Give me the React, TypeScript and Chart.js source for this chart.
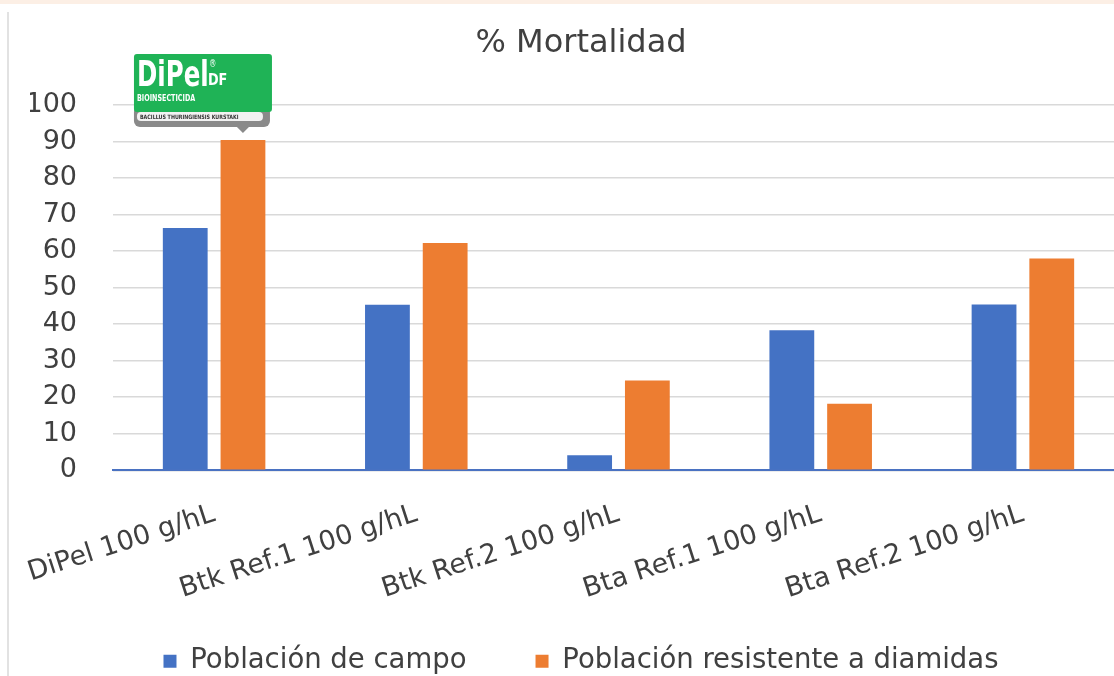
import React, { useEffect, useRef } from "react";
import { Chart, registerables } from "chart.js";

Chart.register(...registerables);

const TITLE = "% Mortalidad";
const CATEGORIES = [
  "DiPel 100 g/hL",
  "Btk Ref.1 100 g/hL",
  "Btk Ref.2 100 g/hL",
  "Bta Ref.1 100 g/hL",
  "Bta Ref.2 100 g/hL",
];
const SERIES_LABELS = ["Población de campo", "Población resistente a diamidas"];
const CAMPO = [66.3, 45.3, 4.1, 38.3, 45.4];
const RESISTENTE = [90.4, 62.2, 24.6, 18.2, 58.0];
const Y_MIN = 0;
const Y_MAX = 100;
const Y_STEP = 10;

const LOGO_NAME = "DiPel";
const LOGO_MARK = "®";
const LOGO_SUFFIX = "DF";
const LOGO_SUB = "BIOINSECTICIDA";
const LOGO_STRIP = "BACILLUS THURINGIENSIS KURSTAKI";

const FONT = "'DejaVu Sans', sans-serif";
const TEXT = "#404040";

function rr(ctx: CanvasRenderingContext2D, x: number, y: number, w: number, h: number, r: number) {
  ctx.beginPath();
  ctx.moveTo(x + r, y);
  ctx.arcTo(x + w, y, x + w, y + h, r);
  ctx.arcTo(x + w, y + h, x, y + h, r);
  ctx.arcTo(x, y + h, x, y, r);
  ctx.arcTo(x, y, x + w, y, r);
  ctx.closePath();
}

// lets the rotated category labels run below the axis box (they sit above the legend)
const unclipLabels = {
  id: "unclipLabels",
  beforeDraw(chart: any) {
    const x = chart.scales.x;
    if (x) x.bottom = chart.height;
  },
};

const logoPlugin = {
  id: "dipelLogo",
  afterDatasetsDraw(chart: any) {
    const bar = chart.getDatasetMeta(1).data[0];
    if (!bar) return;
    const ctx: CanvasRenderingContext2D = chart.ctx;
    const ax = bar.x;
    const ay = bar.y - 7;
    const L = ax - 109;
    const R = ax + 29;
    const T = ay - 79;
    ctx.save();
    ctx.fillStyle = "#8a8a8a";
    rr(ctx, L, T + 52, R - L - 2, 21, 6);
    ctx.fill();
    ctx.beginPath();
    ctx.moveTo(ax - 7, T + 72);
    ctx.lineTo(ax + 7, T + 72);
    ctx.lineTo(ax, ay);
    ctx.closePath();
    ctx.fill();
    ctx.fillStyle = "#1fb356";
    rr(ctx, L, T, R - L, 58, 3);
    ctx.fill();
    ctx.fillStyle = "#f2f2f2";
    rr(ctx, L + 3, T + 58, R - L - 12, 9, 4);
    ctx.fill();
    ctx.fillStyle = "#ffffff";
    ctx.textBaseline = "alphabetic";
    ctx.textAlign = "left";
    ctx.save();
    ctx.translate(L + 3, T + 32);
    ctx.scale(0.7, 1);
    ctx.font = "bold 35px 'DejaVu Sans'";
    ctx.fillText(LOGO_NAME, 0, 0);
    const w = ctx.measureText(LOGO_NAME).width;
    ctx.font = "10px 'DejaVu Sans'";
    ctx.fillText(LOGO_MARK, w + 1, -19);
    ctx.restore();
    ctx.save();
    ctx.translate(L + 74, T + 31);
    ctx.scale(0.8, 1);
    ctx.font = "bold 16px 'DejaVu Sans'";
    ctx.fillText(LOGO_SUFFIX, 0, 0);
    ctx.restore();
    ctx.save();
    ctx.translate(L + 3, T + 47);
    ctx.scale(0.8, 1);
    ctx.font = "bold 8px 'DejaVu Sans'";
    ctx.fillText(LOGO_SUB, 0, 0);
    ctx.restore();
    ctx.save();
    ctx.fillStyle = "#333333";
    ctx.translate(L + 6, T + 65);
    ctx.scale(0.8, 1);
    ctx.font = "bold 6px 'DejaVu Sans'";
    ctx.fillText(LOGO_STRIP, 0, 0);
    ctx.restore();
    ctx.restore();
  },
};

export default function App() {
  const ref = useRef<HTMLCanvasElement | null>(null);

  useEffect(() => {
    if (!ref.current) return;
    const chart = new Chart(ref.current, {
      type: "bar",
      data: {
        labels: CATEGORIES,
        datasets: [
          {
            label: SERIES_LABELS[0],
            data: CAMPO,
            backgroundColor: "#4472C4",
            borderWidth: 0,
            categoryPercentage: 0.571,
            barPercentage: 0.776,
          },
          {
            label: SERIES_LABELS[1],
            data: RESISTENTE,
            backgroundColor: "#ED7D31",
            borderWidth: 0,
            categoryPercentage: 0.571,
            barPercentage: 0.776,
          },
        ],
      },
      options: {
        responsive: false,
        animation: false,
        devicePixelRatio: 1,
        layout: { padding: { left: 22, right: 22, top: 0, bottom: 0 } },
        plugins: {
          title: {
            display: true,
            text: TITLE,
            color: TEXT,
            font: { family: FONT, size: 32, weight: "normal" },
            padding: { top: 14, bottom: 42.6 },
          },
          legend: {
            position: "bottom",
            labels: {
              boxWidth: 13,
              boxHeight: 13,
              color: TEXT,
              font: { family: FONT, size: 27.5 },
              padding: 69,
            },
          },
          tooltip: { enabled: false },
        },
        scales: {
          x: {
            grid: { display: false, drawTicks: false },
            border: { display: true, color: "#4a72c2", width: 2 },
            ticks: {
              color: TEXT,
              font: { family: FONT, size: 27 },
              minRotation: 18,
              maxRotation: 18,
              autoSkip: false,
              padding: 28,
            },
            afterFit: (s: any) => {
              s.height = 108.25;
              s.paddingLeft = 0;
              s.paddingRight = 0;
            },
          },
          y: {
            min: Y_MIN,
            max: Y_MAX,
            ticks: {
              stepSize: Y_STEP,
              autoSkip: false,
              color: TEXT,
              font: { family: FONT, size: 27 },
              padding: 36,
            },
            grid: { color: "#d9d9d9", lineWidth: 1.5, drawTicks: false },
            border: { display: false },
            afterFit: (s: any) => {
              s.width = 83;
            },
          },
          y2: {
            position: "right",
            grid: { display: false, drawTicks: false },
            ticks: { display: false },
            border: { display: false },
            afterFit: (s: any) => {
              s.width = 8;
            },
          },
        },
      },
      plugins: [logoPlugin, unclipLabels],
    });
    return () => chart.destroy();
  }, []);

  return (
    <div style={{ position: "fixed", left: 0, top: 0, width: 1114, height: 676, overflow: "hidden", background: "#ffffff" }}>
      <div style={{ position: "absolute", left: 0, top: 0, width: 1114, height: 4, background: "#fcefe5" }} />
      <div style={{ position: "absolute", left: 7, top: 12, width: 2, height: 664, background: "#e2e2e2" }} />
      <div style={{ position: "absolute", left: 8, top: 10 }}>
        <canvas ref={ref} width={1146} height={675} style={{ display: "block" }} />
      </div>
    </div>
  );
}
